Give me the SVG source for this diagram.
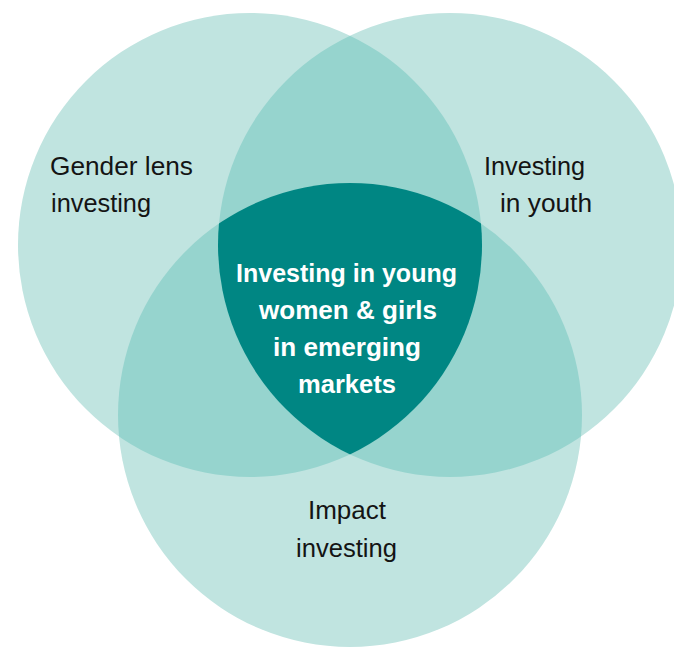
<svg xmlns="http://www.w3.org/2000/svg" width="674" height="648" viewBox="0 0 674 648">
<style>
.c1{fill:#c0e4e0}
.c2{fill:#96d4ce}
.c3{fill:#008683}
.lbl{font-family:"Liberation Sans",Arial,sans-serif;font-size:25px;fill:#141414}
.ctr{font-family:"Liberation Sans",Arial,sans-serif;font-size:26px;font-weight:bold;fill:#ffffff}
</style>
<defs>
<clipPath id="cL"><circle cx="250" cy="245" r="232"/></clipPath>
<clipPath id="cR"><circle cx="450" cy="245" r="232"/></clipPath>
<clipPath id="cB"><circle cx="350" cy="415" r="232"/></clipPath>
</defs>
<rect width="674" height="648" fill="#ffffff"/>
<g id="node-gender">
<circle class="c1" cx="250" cy="245" r="232"/>
</g>
<g id="node-youth">
<circle class="c1" cx="450" cy="245" r="232"/>
</g>
<g id="node-impact">
<circle class="c1" cx="350" cy="415" r="232"/>
</g>
<g id="overlaps">
<circle class="c2" cx="250" cy="245" r="232" clip-path="url(#cR)"/>
<circle class="c2" cx="250" cy="245" r="232" clip-path="url(#cB)"/>
<circle class="c2" cx="450" cy="245" r="232" clip-path="url(#cB)"/>
</g>
<g id="node-center">
<g clip-path="url(#cB)"><circle class="c3" cx="250" cy="245" r="232" clip-path="url(#cR)"/></g>
</g>
<g id="connectors"></g>
<g id="labels">
<text class="lbl" x="50" y="175" textLength="143" lengthAdjust="spacingAndGlyphs">Gender lens</text>
<text class="lbl" x="51" y="212" textLength="100" lengthAdjust="spacingAndGlyphs">investing</text>
<text class="lbl" x="484" y="175" textLength="101" lengthAdjust="spacingAndGlyphs">Investing</text>
<text class="lbl" x="500" y="212" textLength="92" lengthAdjust="spacingAndGlyphs">in youth</text>
<text class="lbl" x="308" y="519" textLength="78" lengthAdjust="spacingAndGlyphs">Impact</text>
<text class="lbl" x="296" y="557" textLength="101" lengthAdjust="spacingAndGlyphs">investing</text>
<text class="ctr" x="236" y="282" textLength="221" lengthAdjust="spacingAndGlyphs">Investing in young</text>
<text class="ctr" x="259" y="319" textLength="178" lengthAdjust="spacingAndGlyphs">women &amp; girls</text>
<text class="ctr" x="273" y="356" textLength="148" lengthAdjust="spacingAndGlyphs">in emerging</text>
<text class="ctr" x="298" y="393" textLength="98" lengthAdjust="spacingAndGlyphs">markets</text>
</g>
</svg>
